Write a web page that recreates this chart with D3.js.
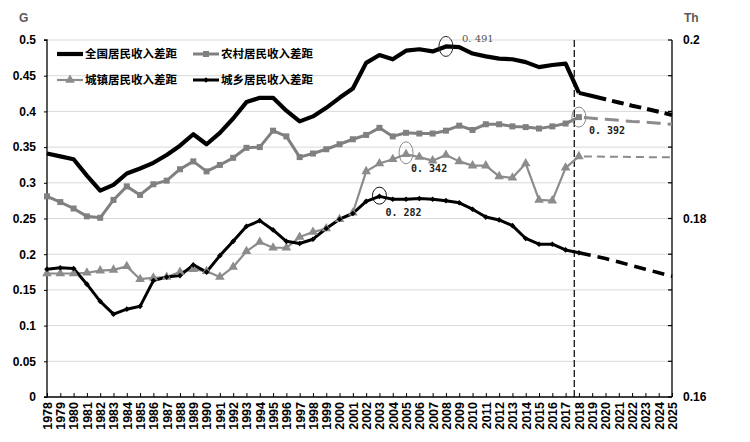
<!DOCTYPE html>
<html><head><meta charset="utf-8">
<script src="https://cdn.jsdelivr.net/npm/d3@7"></script>
<style>body{margin:0;background:#fff}svg{display:block}</style>
</head><body>
<svg id="c" width="750" height="442"></svg>
<script>
const years = d3.range(1978, 2026);
const actualYears = d3.range(1978, 2019);
const forecastYears = d3.range(2018, 2026);
const seriesNames = ["全国居民收入差距", "农村居民收入差距", "城镇居民收入差距", "城乡居民收入差距"];
const leftTicks = [0, 0.05, 0.1, 0.15, 0.2, 0.25, 0.3, 0.35, 0.4, 0.45, 0.5];
const rightTicks = [0.16, 0.18, 0.2];

// 1978..2018
const national = [0.341,0.337,0.333,0.31,0.289,0.297,0.313,0.32,0.328,0.339,0.352,0.368,0.354,0.37,0.39,0.413,0.419,0.419,0.401,0.386,0.393,0.405,0.419,0.432,0.468,0.479,0.473,0.485,0.487,0.484,0.491,0.49,0.481,0.477,0.474,0.473,0.469,0.462,0.465,0.467,0.426];
// 2018..2025
const nationalF = [0.426,0.4215,0.417,0.4125,0.408,0.404,0.3995,0.395];
const rural = [0.281,0.273,0.264,0.253,0.251,0.276,0.295,0.283,0.298,0.303,0.319,0.330,0.316,0.325,0.335,0.349,0.350,0.373,0.365,0.336,0.341,0.347,0.354,0.361,0.367,0.377,0.365,0.370,0.369,0.369,0.373,0.380,0.374,0.382,0.382,0.379,0.378,0.376,0.379,0.383,0.392];
const ruralF = [0.392,0.3905,0.389,0.3875,0.386,0.385,0.3835,0.382];
const urban = [0.173,0.173,0.173,0.174,0.177,0.178,0.183,0.165,0.167,0.168,0.175,0.179,0.176,0.168,0.182,0.204,0.217,0.209,0.209,0.224,0.231,0.236,0.249,0.258,0.316,0.327,0.333,0.340,0.336,0.331,0.339,0.330,0.324,0.324,0.309,0.307,0.327,0.276,0.275,0.321,0.337];
const urbanF = [0.337,0.3368,0.3366,0.3364,0.3362,0.336,0.3358,0.3357];
const urbanRural = [0.179,0.181,0.180,0.158,0.134,0.116,0.123,0.127,0.163,0.168,0.170,0.185,0.175,0.198,0.218,0.239,0.247,0.234,0.218,0.215,0.221,0.236,0.249,0.257,0.274,0.281,0.277,0.277,0.278,0.277,0.275,0.272,0.263,0.252,0.248,0.240,0.222,0.214,0.214,0.206,0.202];
const urbanRuralF = [0.202,0.198,0.194,0.189,0.184,0.179,0.174,0.169];

const notes = [
  {year:2008, value:0.491, label:"0. 491", rx:7, ry:10, stroke:"#222", dx:16, dy:-4, weight:"normal", color:"#555", font:"'DejaVu Serif', 'Liberation Serif', serif"},
  {year:2018, value:0.392, label:"0. 392", rx:7, ry:10, stroke:"#888", dx:10, dy:17, weight:"bold", color:"#222", font:"'DejaVu Sans Mono', monospace"},
  {year:2005, value:0.342, label:"0. 342", rx:7, ry:11, stroke:"#888", dx:5, dy:19, weight:"bold", color:"#222", font:"'DejaVu Sans Mono', monospace"},
  {year:2003, value:0.282, label:"0. 282", rx:7, ry:8.5, stroke:"#111", dx:6, dy:20, weight:"bold", color:"#222", font:"'DejaVu Sans Mono', monospace"}
];
const cutYear = 2017.65;

const svg = d3.select("#c");
const L = 47, R = 672, T = 40, B = 397;
const x = d3.scaleLinear().domain([1978, 2025]).range([L, R]);
const y = d3.scaleLinear().domain([0, 0.5]).range([B, T]);
const y2 = d3.scaleLinear().domain([0.16, 0.2]).range([B, T]);

// grid
svg.append("g").selectAll("line").data(leftTicks.filter(d => d > 0)).join("line")
  .attr("x1", L).attr("x2", R).attr("y1", d => y(d)).attr("y2", d => y(d))
  .attr("stroke", "#d9d9d9").attr("stroke-width", 1);

// left axis
const ga = svg.append("g").attr("transform", `translate(${L},0)`)
  .call(d3.axisLeft(y).tickValues(leftTicks).tickFormat(d => d === 0 ? "0" : String(d)).tickSize(3).tickPadding(8));
ga.select(".domain").attr("stroke", "#000").attr("stroke-width", 1.3).attr("d", `M-3,${B}H0V${T}H-3`);
ga.selectAll("text").attr("font-family", "'Liberation Sans', Arial, sans-serif").attr("font-weight", "bold").attr("font-size", 12).attr("fill", "#000");

// right axis
const gr = svg.append("g").attr("transform", `translate(${R},0)`)
  .call(d3.axisRight(y2).tickValues(rightTicks).tickFormat(d => String(d)).tickSize(0).tickPadding(11));
gr.select(".domain").attr("stroke", "#000").attr("stroke-width", 1.3).attr("d", `M0,${B}V${T}`);
gr.selectAll("text").attr("font-family", "'Liberation Sans', Arial, sans-serif").attr("font-weight", "bold").attr("font-size", 12).attr("fill", "#000");
svg.append("g").selectAll("line").data(leftTicks).join("line")
  .attr("x1", R - 4).attr("x2", R).attr("y1", d => y(d)).attr("y2", d => y(d))
  .attr("stroke", "#000").attr("stroke-width", 1.2);

// bottom axis
const gb = svg.append("g").attr("transform", `translate(0,${B})`)
  .call(d3.axisBottom(x).tickValues(years).tickFormat(d3.format("d")).tickSize(-4).tickPadding(4));
gb.select(".domain").attr("stroke", "#000").attr("stroke-width", 1.3).attr("d", `M${L},0H${R}`);
gb.selectAll(".tick line").attr("stroke", "#000");
gb.selectAll("text").attr("font-family", "'Liberation Sans', Arial, sans-serif").attr("font-weight", "bold").attr("font-size", 12.5).attr("fill", "#000")
  .attr("transform", "rotate(-90)").attr("text-anchor", "end").attr("dx", "-5").attr("y", 0).attr("x", 0).attr("dy", "0.35em");

// axis titles
svg.append("text").attr("x", 19).attr("y", 22).text("G")
  .attr("font-family", "'Liberation Sans', Arial, sans-serif").attr("font-weight", "bold").attr("font-size", 12).attr("fill", "#595959");
svg.append("text").attr("x", 684).attr("y", 22).text("Th")
  .attr("font-family", "'Liberation Sans', Arial, sans-serif").attr("font-weight", "bold").attr("font-size", 12).attr("fill", "#595959");

// vertical dashed line
svg.append("line").attr("x1", x(cutYear)).attr("x2", x(cutYear)).attr("y1", T).attr("y2", B)
  .attr("stroke", "#000").attr("stroke-width", 1.2).attr("stroke-dasharray", "7,3");

const line = d3.line().x(d => x(d[0])).y(d => y(d[1]));
const zipA = arr => actualYears.map((yr, i) => [yr, arr[i]]);
const zipF = arr => forecastYears.map((yr, i) => [yr, arr[i]]);

// forecast lines
svg.append("path").attr("d", line(zipF(ruralF))).attr("fill", "none").attr("stroke", "#8c8c8c").attr("stroke-width", 3).attr("stroke-dasharray", "14,7").attr("stroke-dashoffset", -5);
svg.append("path").attr("d", line(zipF(urbanF))).attr("fill", "none").attr("stroke", "#8c8c8c").attr("stroke-width", 2).attr("stroke-dasharray", "8,5").attr("stroke-dashoffset", -5);
svg.append("path").attr("d", line(zipF(urbanRuralF))).attr("fill", "none").attr("stroke", "#000").attr("stroke-width", 3.5).attr("stroke-dasharray", "12,7");
svg.append("path").attr("d", line(zipF(nationalF))).attr("fill", "none").attr("stroke", "#000").attr("stroke-width", 4).attr("stroke-dasharray", "28,6,12,6,12,6,12,6,12,6,12,6,12,6,12,6,12,6");

// actual lines
svg.append("path").attr("d", line(zipA(urban))).attr("fill", "none").attr("stroke", "#8c8c8c").attr("stroke-width", 2.2).attr("stroke-linejoin", "round");
svg.append("path").attr("d", line(zipA(rural))).attr("fill", "none").attr("stroke", "#808080").attr("stroke-width", 3).attr("stroke-linejoin", "round");
svg.append("path").attr("d", line(zipA(urbanRural))).attr("fill", "none").attr("stroke", "#000").attr("stroke-width", 3).attr("stroke-linejoin", "round");
svg.append("path").attr("d", line(zipA(national))).attr("fill", "none").attr("stroke", "#000").attr("stroke-width", 4.2).attr("stroke-linejoin", "round");

// markers
const sym = (type, size) => d3.symbol().type(type).size(size)();
svg.append("g").selectAll("path").data(zipA(urban)).join("path")
  .attr("transform", d => `translate(${x(d[0])},${y(d[1])})`).attr("d", sym(d3.symbolTriangle, 40)).attr("fill", "#8c8c8c");
svg.append("g").selectAll("path").data(zipA(rural)).join("path")
  .attr("transform", d => `translate(${x(d[0])},${y(d[1])})`).attr("d", sym(d3.symbolSquare, 36)).attr("fill", "#808080");
svg.append("g").selectAll("path").data(zipA(urbanRural)).join("path")
  .attr("transform", d => `translate(${x(d[0])},${y(d[1])}) rotate(45)`).attr("d", sym(d3.symbolSquare, 16)).attr("fill", "#000");

// annotations
const ann = svg.append("g");
notes.forEach(n => {
  ann.append("ellipse").attr("cx", x(n.year)).attr("cy", y(n.value)).attr("rx", n.rx).attr("ry", n.ry)
    .attr("fill", "none").attr("stroke", n.stroke).attr("stroke-width", 1);
  ann.append("text").attr("x", x(n.year) + n.dx).attr("y", y(n.value) + n.dy).text(n.label)
    .attr("font-family", n.font).attr("font-size", 10).attr("font-weight", n.weight).attr("fill", n.color);
});

// legend
const legend = [
  {name: seriesNames[0], color:"#000", w:4.2, marker:null, lx:57, ly:54},
  {name: seriesNames[1], color:"#808080", w:3, marker:"square", lx:193, ly:54},
  {name: seriesNames[2], color:"#8c8c8c", w:2.2, marker:"triangle", lx:57, ly:80},
  {name: seriesNames[3], color:"#000", w:3, marker:"diamond", lx:193, ly:80}
];
const lg = svg.append("g");
legend.forEach(it => {
  lg.append("line").attr("x1", it.lx).attr("x2", it.lx + 26).attr("y1", it.ly).attr("y2", it.ly)
    .attr("stroke", it.color).attr("stroke-width", it.w);
  const cx = it.lx + 13;
  if (it.marker === "square") lg.append("path").attr("transform", `translate(${cx},${it.ly})`).attr("d", sym(d3.symbolSquare, 36)).attr("fill", it.color);
  if (it.marker === "triangle") lg.append("path").attr("transform", `translate(${cx},${it.ly})`).attr("d", sym(d3.symbolTriangle, 40)).attr("fill", it.color);
  if (it.marker === "diamond") lg.append("path").attr("transform", `translate(${cx},${it.ly}) rotate(45)`).attr("d", sym(d3.symbolSquare, 16)).attr("fill", it.color);
  lg.append("text").attr("x", it.lx + 28).attr("y", it.ly).attr("dy", "0.36em").text(it.name)
    .attr("font-family", "'Noto Sans CJK SC', sans-serif").attr("font-weight", "bold").attr("font-size", 11.5).attr("fill", "#000");
});
</script>
</body></html>
